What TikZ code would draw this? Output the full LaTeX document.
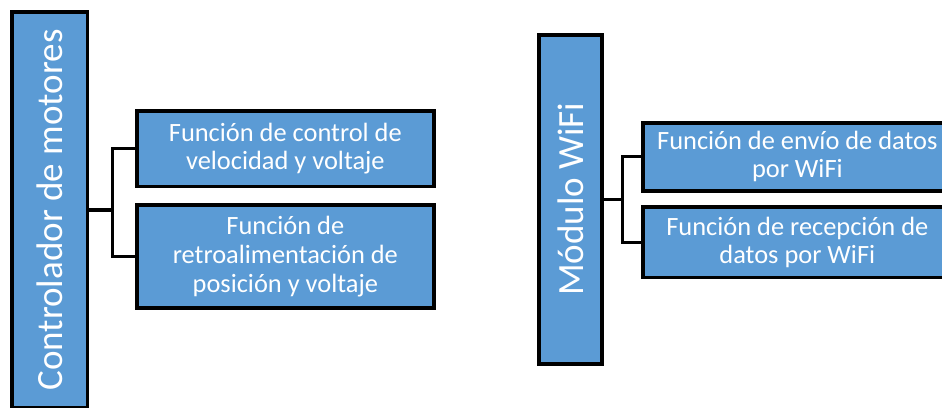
\documentclass[tikz,border=0pt]{standalone}
\usepackage{fontspec}
\setmainfont{Carlito}
\definecolor{boxblue}{HTML}{5B9BD5}
\begin{document}
\begin{tikzpicture}[x=1pt,y=-1pt,
  box/.style={draw=black,fill=boxblue,line width=3.8pt,rectangle,inner sep=0pt,
    text=white,align=center,font=\fontsize{26.4}{28.3}\selectfont},
  bigbox/.style={draw=black,fill=boxblue,line width=3.8pt,rectangle,inner sep=0pt,
    text=white,font=\fontsize{37}{44}\selectfont},
  conn/.style={draw=black,line width=3.3pt}]
\useasboundingbox (0,0) rectangle (942,407);
\clip (0,0) rectangle (942,407);
% left group
\node[bigbox,minimum width=75.5pt,minimum height=396.2pt] (big1) at (49.65,210) {};
\node[rotate=90,text=white,font=\fontsize{37}{44}\selectfont] (big1t) at (49.65,210) {Controlador de motores};
\node[box,minimum width=296.9pt,minimum height=75.2pt] (b1) at (285.35,148.8) {Función de control de\\velocidad y voltaje};
\node[box,minimum width=296.9pt,minimum height=102.9pt,font=\fontsize{26.4}{29.3}\selectfont] (b2) at (285.35,256.65) {Función de\\retroalimentación de\\posición y voltaje};
\coordinate (j1) at (112.3,210);
\draw[conn] (big1.east) -- (j1);
\draw[conn] (j1) |- (b1.west);
\draw[conn] (j1) |- (b2.west);
% right group
\node[bigbox,minimum width=62.9pt,minimum height=329.2pt] (big2) at (570.65,199.2) {};
\node[rotate=90,text=white,font=\fontsize{37}{44}\selectfont] (big2t) at (570.65,199.2) {Módulo WiFi};
\node[box,minimum width=309.5pt,minimum height=68.2pt] (b3) at (797.35,156.7) {Función de envío de datos\\por WiFi};
\node[box,minimum width=309.5pt,minimum height=70.5pt] (b4) at (797.35,242.15) {Función de recepción de\\datos por WiFi};
\coordinate (j2) at (622.7,199.2);
\draw[conn] (big2.east) -- (j2);
\draw[conn] (j2) |- (b3.west);
\draw[conn] (j2) |- (b4.west);
\end{tikzpicture}
\end{document}
